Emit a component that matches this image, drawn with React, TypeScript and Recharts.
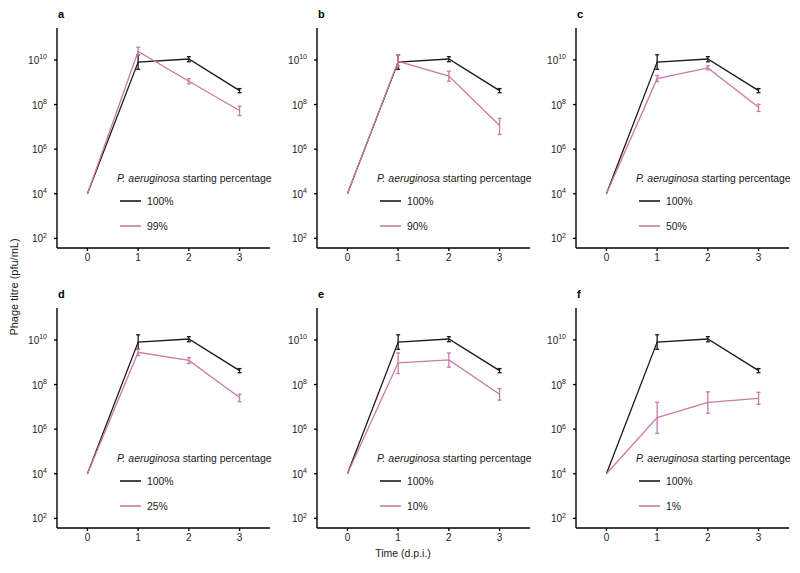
import { LineChart, Line, XAxis, YAxis, ErrorBar, Legend } from "recharts";

const FONT = '"Liberation Sans", Arial, sans-serif';
const BLACK = "#1a1a1a";
const PINK = "#cc79a7";

const days = [0, 1, 2, 3];
const xTicks = [0, 1, 2, 3];
const yTicks = [1e2, 1e4, 1e6, 1e8, 1e10];

// 100% P. aeruginosa reference, same in every panel
const ref100 = [1e4, 8e9, 1.1e10, 4.2e8];
const ref100Lo = [null, 3.8e9, 8.3e9, 3.4e8];
const ref100Hi = [null, 1.7e10, 1.4e10, 5.2e8];

const panelLetters = ["a", "b", "c", "d", "e", "f"];
const panelPercent = ["99%", "90%", "50%", "25%", "10%", "1%"];

const pinkMean = [
  [1e4, 2.4e10, 1.1e9, 5.4e7],
  [1e4, 8.7e9, 1.9e9, 1.15e7],
  [1e4, 1.45e9, 4.4e9, 7.6e7],
  [1e4, 2.8e9, 1.2e9, 2.6e7],
  [1e4, 9.4e8, 1.27e9, 3.7e7],
  [1e4, 3.3e6, 1.6e7, 2.4e7],
];
const pinkLo = [
  [null, 1.7e10, 8.5e8, 3.2e7],
  [null, 5.2e9, 1.1e9, 4.6e6],
  [null, 1.07e9, 3.6e9, 4.9e7],
  [null, 2e9, 8.7e8, 1.7e7],
  [null, 3.1e8, 6e8, 2e7],
  [null, 6.5e5, 5.2e6, 1.3e7],
];
const pinkHi = [
  [null, 3.7e10, 1.45e9, 8.5e7],
  [null, 1.7e10, 3.1e9, 2.4e7],
  [null, 2e9, 5.4e9, 1.03e8],
  [null, 3.8e9, 1.6e9, 3.7e7],
  [null, 2.6e9, 2.6e9, 6.6e7],
  [null, 1.6e7, 4.7e7, 4.5e7],
];

const seriesOrder = ["ref", "pct"];

// plot-area left edges and top edges
const panelLeft = [57, 317, 576];
const panelTop = [28, 308];
const PLOT_W = 213;
const PLOT_H = 220;
const YAXIS_W = 50;

function err(v: number, lo: number | null, hi: number | null) {
  if (lo == null || hi == null) return null;
  return [v - lo, hi - v];
}

function PowTick(props: any) {
  const { x, y, payload } = props;
  const exp = Math.round(Math.log10(payload.value));
  return (
    <text x={x} y={y + 4} textAnchor="end" fontSize={10} fill="#222" fontFamily={FONT}>
      10
      <tspan dy={-4.5} fontSize={7}>
        {exp}
      </tspan>
    </text>
  );
}

function Panel({ idx }: { idx: number }) {
  const row = Math.floor(idx / 3);
  const col = idx % 3;
  const data = days.map((t, i) => ({
    t,
    ref: ref100[i],
    refErr: err(ref100[i], ref100Lo[i], ref100Hi[i]),
    pct: pinkMean[idx][i],
    pctErr: err(pinkMean[idx][i], pinkLo[idx][i], pinkHi[idx][i]),
  }));
  const left = panelLeft[col];
  const top = panelTop[row];

  return (
    <>
      <div
        style={{
          position: "absolute",
          left: left + 1,
          top: top - 20,
          fontFamily: FONT,
          fontWeight: "bold",
          fontSize: 11,
          color: "#000",
        }}
      >
        {panelLetters[idx]}
      </div>
      <div style={{ position: "absolute", left: left - YAXIS_W, top }}>
        <LineChart
          width={YAXIS_W + PLOT_W + 10}
          height={PLOT_H + 30}
          data={data}
          margin={{ top: 0, right: 10, left: 0, bottom: 0 }}
        >
          <XAxis
            dataKey="t"
            type="number"
            domain={[-0.6, 3.6]}
            ticks={xTicks}
            height={30}
            tickSize={3}
            tickMargin={3}
            axisLine={{ stroke: "#000", strokeWidth: 1.4 }}
            tickLine={{ stroke: "#000", strokeWidth: 1.3 }}
            tick={{ fontSize: 10, fill: "#222", fontFamily: FONT }}
          />
          <YAxis
            type="number"
            scale="log"
            domain={[37, 2.7e11]}
            allowDataOverflow
            ticks={yTicks}
            width={YAXIS_W}
            tickSize={3}
            tickMargin={7}
            axisLine={{ stroke: "#000", strokeWidth: 1.4 }}
            tickLine={{ stroke: "#000", strokeWidth: 1.3 }}
            tick={<PowTick />}
          />
          <Legend
            layout="horizontal"
            verticalAlign="middle"
            align="center"
            wrapperStyle={{ left: YAXIS_W + 60, top: 143, bottom: "auto", width: "auto" }}
            content={({ payload }: any) => {
              const items = [...(payload || [])].sort(
                (a: any, b: any) => seriesOrder.indexOf(a.dataKey) - seriesOrder.indexOf(b.dataKey)
              );
              return (
                <div style={{ fontFamily: FONT, fontSize: 10.4, color: "#1a1a1a", whiteSpace: "nowrap" }}>
                  <div style={{ height: 16, lineHeight: "16px" }}>
                    <i>P. aeruginosa</i> starting percentage
                  </div>
                  {items.map((item: any) => (
                    <div
                      key={item.value}
                      style={{ display: "flex", alignItems: "center", height: 22, paddingTop: 3 }}
                    >
                      <svg width={27} height={4} style={{ marginLeft: 3 }}>
                        <line x1={0} y1={2} x2={21} y2={2} stroke={item.color} strokeWidth={1.6} />
                      </svg>
                      <span>{item.value}</span>
                    </div>
                  ))}
                </div>
              );
            }}
          />
          <Line
            dataKey="ref"
            name="100%"
            type="linear"
            stroke={BLACK}
            strokeWidth={1.3}
            dot={false}
            activeDot={false}
            isAnimationActive={false}
          >
            <ErrorBar dataKey="refErr" direction="y" width={2} stroke={BLACK} strokeWidth={1.3} isAnimationActive={false} />
          </Line>
          <Line
            dataKey="pct"
            name={panelPercent[idx]}
            type="linear"
            stroke={PINK}
            strokeWidth={1.3}
            dot={false}
            activeDot={false}
            isAnimationActive={false}
          >
            <ErrorBar dataKey="pctErr" direction="y" width={2} stroke={PINK} strokeWidth={1.3} isAnimationActive={false} />
          </Line>
        </LineChart>
      </div>
    </>
  );
}

export default function App() {
  return (
    <div
      style={{
        position: "absolute",
        left: 0,
        top: 0,
        width: 800,
        height: 573,
        background: "#fff",
        fontFamily: FONT,
      }}
    >
      {panelLetters.map((_, i) => (
        <Panel key={i} idx={i} />
      ))}
      <div
        style={{
          position: "absolute",
          left: 14,
          top: 287,
          transform: "translate(-50%, -50%) rotate(-90deg)",
          fontSize: 11,
          color: "#1a1a1a",
          whiteSpace: "nowrap",
        }}
      >
        Phage titre (pfu/mL)
      </div>
      <div
        style={{
          position: "absolute",
          left: 403,
          top: 553,
          transform: "translate(-50%, -50%)",
          fontSize: 10.5,
          color: "#1a1a1a",
          whiteSpace: "nowrap",
        }}
      >
        Time (d.p.i.)
      </div>
    </div>
  );
}
